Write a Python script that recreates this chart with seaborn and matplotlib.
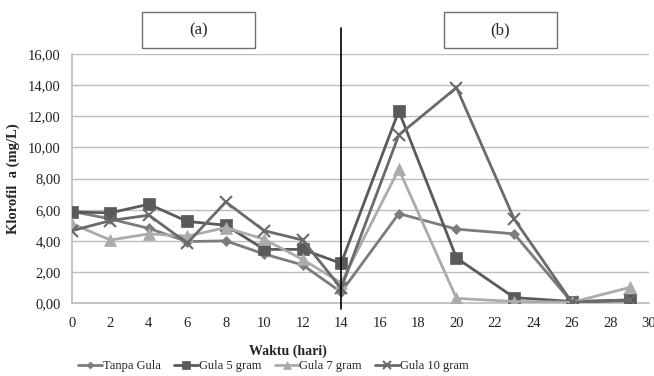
import numpy as np
import pandas as pd
import matplotlib
matplotlib.use("Agg")
import matplotlib.pyplot as plt
import seaborn as sns
from matplotlib.patches import Rectangle
from matplotlib.ticker import FuncFormatter

# data
hari = [0, 2, 4, 6, 8, 10, 12, 14, 17, 20, 23, 26, 29]
tanpa_gula = [5.90, 5.40, 4.80, 3.95, 4.00, 3.15, 2.45, 0.70, 5.75, 4.75, 4.45, 0.05, 0.15]
gula_5 = [5.85, 5.80, 6.35, 5.25, 5.00, 3.45, 3.45, 2.55, 12.35, 2.90, 0.35, 0.10, 0.20]
gula_7 = [5.10, 4.05, 4.45, 4.30, 4.85, 4.10, 2.80, 1.30, 8.60, 0.30, 0.10, 0.05, 1.00]
gula_10 = [4.65, 5.30, 5.65, 3.85, 6.50, 4.65, 4.05, 0.95, 10.80, 13.85, 5.40, 0.05, 0.20]

seri = ["Tanpa Gula", "Gula 5 gram", "Gula 7 gram", "Gula 10 gram"]
warna = ["#7c7c7c", "#5a5a5a", "#ababab", "#6a6a6a"]
penanda = ["D", "s", "^", "x"]
ukuran = [5, 8, 8, 8]

df = pd.DataFrame({
    "Waktu": hari * 4,
    "Klorofil": tanpa_gula + gula_5 + gula_7 + gula_10,
    "Perlakuan": [s for s in seri for _ in hari],
})

sns.set_theme(style="white")
plt.rcParams.update({"font.family": ["Liberation Serif", "DejaVu Serif"], "font.size": 10.5})

fig = plt.figure(figsize=(6.54, 3.76), dpi=100)
ax = fig.add_axes([0.110, 0.194, 0.882, 0.662])

for s, c, m, ms in zip(seri, warna, penanda, ukuran):
    sub = df[df["Perlakuan"] == s]
    sns.lineplot(data=sub, x="Waktu", y="Klorofil", ax=ax, color=c, marker=m,
                 markersize=ms, markeredgecolor=c, markeredgewidth=1.5 if m == "x" else 0.5,
                 linewidth=2.0, label=s, zorder=3, legend=False)

# garis pemisah fase (a) dan (b)
ax.plot([14, 14], [-0.35, 17.65], color="black", linewidth=1.2, clip_on=False, zorder=5)

ax.set_xlim(0, 30)
ax.set_ylim(0, 16)
ax.set_xticks(np.arange(0, 31, 2))
ax.set_yticks(np.arange(0, 17, 2))
ax.yaxis.set_major_formatter(FuncFormatter(lambda v, p: f"{v:.2f}".replace(".", ",")))
ax.grid(axis="y", color="#bdbdbd", linewidth=1)
ax.grid(axis="x", visible=False)
for sp in ["top", "right"]:
    ax.spines[sp].set_visible(False)
for sp in ["left", "bottom"]:
    ax.spines[sp].set_color("#bdbdbd")
ax.tick_params(axis="both", length=0, labelsize=10.5, colors="#222222")
ax.tick_params(axis="x", pad=10)
ax.tick_params(axis="y", pad=8)
ax.set_xlabel("Waktu (hari)", fontweight="bold", fontsize=10)
ax.xaxis.set_label_coords(0.375, -0.165)
ax.set_ylabel("Klorofil  a (mg/L)", fontweight="bold", fontsize=10.5, labelpad=6)

handles, labels = ax.get_legend_handles_labels()
fig.legend(handles, labels, loc="center", bbox_to_anchor=(0.418, 0.026), ncol=4,
           frameon=False, fontsize=9, handlelength=1.9, handletextpad=0.05,
           columnspacing=1.1, markerscale=0.7, borderaxespad=0)

# kotak label (a) dan (b)
for x0, teks in [(142, "(a)"), (444, "(b)")]:
    fig.patches.append(Rectangle((x0 / 654, 1 - 48 / 376), 113 / 654, 36 / 376,
                                 transform=fig.transFigure, facecolor="white",
                                 edgecolor="#707070", linewidth=1))
    fig.text((x0 + 56.5) / 654, 1 - 30 / 376, teks, ha="center", va="center", fontsize=12)

fig.savefig("out.png", dpi=100)
